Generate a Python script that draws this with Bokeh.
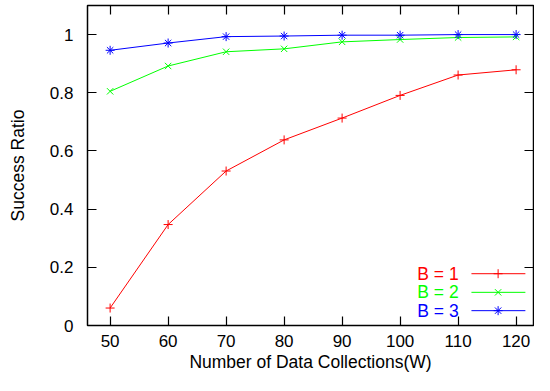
from bokeh.plotting import figure
from bokeh.models import FixedTicker, CustomJSTickFormatter, LinearAxis, Range1d
from bokeh.core.properties import value
from bokeh.embed import file_html
from bokeh.resources import INLINE

# ---- data ----
collections = [50, 60, 70, 80, 90, 100, 110, 120]
ratio_b1 = [0.06, 0.347, 0.531, 0.638, 0.713, 0.791, 0.861, 0.879]
ratio_b2 = [0.805, 0.892, 0.941, 0.951, 0.975, 0.983, 0.990, 0.992]
ratio_b3 = [0.946, 0.971, 0.993, 0.995, 0.998, 0.998, 1.0, 1.0]
series_labels = ["B = 1", "B = 2", "B = 3"]
x_ticks = [50, 60, 70, 80, 90, 100, 110, 120]
y_ticks = [0, 0.2, 0.4, 0.6, 0.8, 1.0]

colors = ["#ff0000", "#00ff00", "#0000ff"]
markers = ["cross", "x", "asterisk"]
FONT = "Liberation Sans"
TICK_FS = "17px"
LABEL_FS = "17.5px"
LEG_FS = "17.5px"

p = figure(width=534, height=375, output_backend="svg", toolbar_location=None,
           x_range=Range1d(46.1, 123), y_range=Range1d(0, 1.1),
           min_border_left=87, min_border_right=1, min_border_top=5, min_border_bottom=50)
p.grid.visible = False
p.outline_line_color = "black"
p.outline_line_width = 1.5
p.background_fill_color = "white"
p.border_fill_color = "white"

fmt = CustomJSTickFormatter(code="return tick.toFixed(1).replace(/\\.0$/, '');")


def style_axis(ax, labels=True):
    ax.axis_line_color = None
    ax.major_tick_in = 9
    ax.major_tick_out = 0
    ax.major_tick_line_width = 1.2
    ax.major_tick_line_color = "black"
    ax.minor_tick_line_color = None
    if labels:
        ax.major_label_text_font = FONT
        ax.major_label_text_font_size = TICK_FS
        ax.major_label_text_color = "black"
        ax.axis_label_text_font = FONT
        ax.axis_label_text_font_size = LABEL_FS
        ax.axis_label_text_font_style = "normal"
        ax.axis_label_text_color = "black"
    else:
        ax.major_label_text_font_size = "1px"
        ax.major_label_text_color = None
        ax.major_label_standoff = 0


p.xaxis.ticker = FixedTicker(ticks=x_ticks)
p.yaxis.ticker = FixedTicker(ticks=y_ticks)
p.yaxis.formatter = fmt
p.xaxis.axis_label = "Number of Data Collections(W)"
p.yaxis.axis_label = "Success Ratio"
style_axis(p.xaxis[0])
style_axis(p.yaxis[0])
p.xaxis.major_label_standoff = 9
p.xaxis.axis_label_standoff = 2
p.yaxis.major_label_standoff = 14
p.yaxis.axis_label_standoff = 19

top_ax = LinearAxis(ticker=FixedTicker(ticks=x_ticks))
right_ax = LinearAxis(ticker=FixedTicker(ticks=y_ticks))
style_axis(top_ax, labels=False)
style_axis(right_ax, labels=False)
p.add_layout(top_ax, "above")
p.add_layout(right_ax, "right")

series = [ratio_b1, ratio_b2, ratio_b3]
for ys, c, m in zip(series, colors, markers):
    p.line(collections, ys, line_color=c, line_width=1)
    p.scatter(collections, ys, marker=m, size=9, line_color=c, line_width=1)

# ---- legend (gnuplot style: text right-aligned, then sample) ----
leg_y = [0.178, 0.114, 0.051]
leg_text_x = 110.1
leg_line_x = [112.3, 121.6]
leg_mark_x = 116.9
for lab, c, m, yy in zip(series_labels, colors, markers, leg_y):
    p.text(x=[leg_text_x], y=[yy], text=[lab], text_align="right", text_baseline="middle",
           text_font=value(FONT), text_font_size=LEG_FS, text_color=c)
    p.line(leg_line_x, [yy, yy], line_color=c, line_width=1)
    p.scatter([leg_mark_x], [yy], marker=m, size=9, line_color=c, line_width=1)

open("out.html", "w").write(file_html(p, INLINE))
